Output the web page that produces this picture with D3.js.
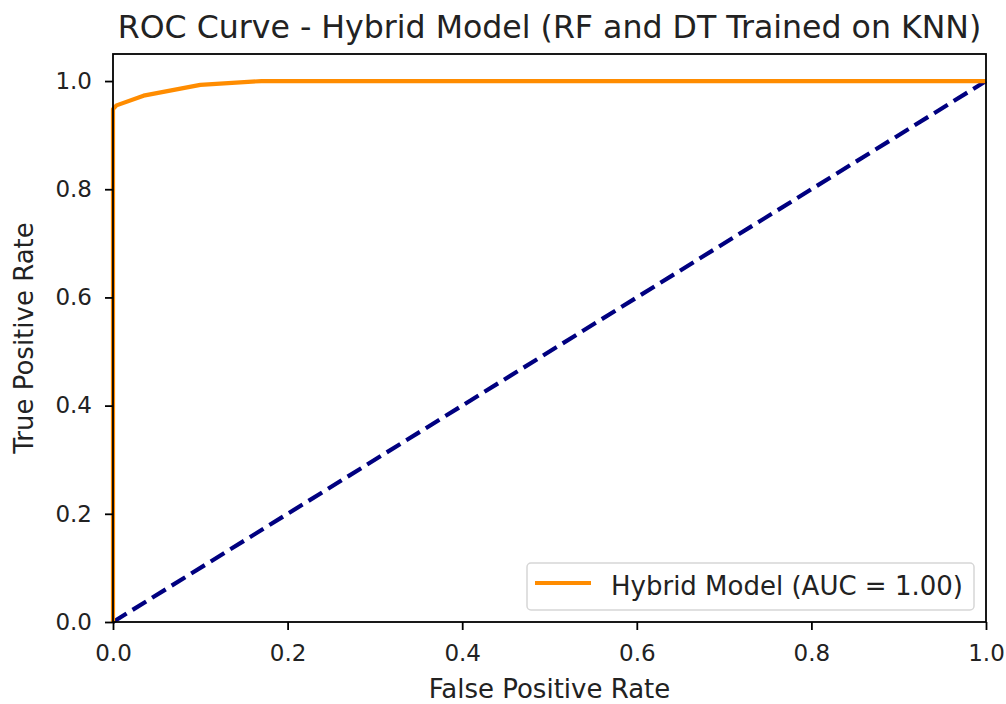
<!DOCTYPE html>
<meta charset="utf-8">
<style>
  body { margin: 0; background: #fff; }
  text { font-family: "DejaVu Sans", sans-serif; fill: #222; }
</style>
<svg width="1006" height="704"></svg>
<script src="https://d3js.org/d3.v7.min.js"></script>
<script>

var fpr = [0, 0, 0, 0.004, 0.035, 0.1, 0.17, 1],
    tpr = [0, 0.93, 0.948, 0.955, 0.973, 0.993, 1, 1],
    chanceX = [0, 1],
    chanceY = [0, 1],
    ticks = [0, 0.2, 0.4, 0.6, 0.8, 1.0],
    title = "ROC Curve - Hybrid Model (RF and DT Trained on KNN)",
    legendLabel = "Hybrid Model (AUC = 1.00)";

var svg = d3.select("svg"),
    margin = {top: 54, right: 20, bottom: 82, left: 113},
    width = 986 - margin.left,
    height = 622 - margin.top;

var x = d3.scaleLinear().domain([0, 1]).range([0, width]),
    y = d3.scaleLinear().domain([0, 1.05]).range([height, 0]);

var g = svg.append("g").attr("transform", "translate(" + margin.left + "," + margin.top + ")");

var line = d3.line()
    .x(function(d) { return x(d[0]); })
    .y(function(d) { return y(d[1]); });

g.append("path")
    .datum(d3.zip(chanceX, chanceY))
    .attr("d", line)
    .attr("fill", "none")
    .attr("stroke", "#000080")
    .attr("stroke-width", 4.2)
    .attr("stroke-dasharray", "16,7");

g.append("path")
    .datum(d3.zip(fpr, tpr))
    .attr("d", line)
    .attr("fill", "none")
    .attr("stroke", "#ff8c00")
    .attr("stroke-width", 4.2)
    .attr("stroke-linejoin", "round");

var xAxis = g.append("g")
    .attr("transform", "translate(0," + height + ")")
    .call(d3.axisBottom(x).tickValues(ticks).tickFormat(d3.format(".1f")).tickSize(8).tickPadding(15));

var yAxis = g.append("g")
    .call(d3.axisLeft(y).tickValues(ticks).tickFormat(d3.format(".1f")).tickSize(8).tickPadding(13));

[xAxis, yAxis].forEach(function(a) {
  a.select(".domain").remove();
  a.selectAll(".tick line").attr("stroke", "#000").attr("stroke-width", 1.8);
  a.selectAll(".tick text").style("font-size", "23px").attr("fill", "#222");
});

g.append("rect")
    .attr("width", width)
    .attr("height", height)
    .attr("fill", "none")
    .attr("stroke", "#000")
    .attr("stroke-width", 1.8);

svg.append("text")
    .attr("x", margin.left + width / 2)
    .attr("y", 38)
    .attr("text-anchor", "middle")
    .style("font-size", "31.6px")
    .text(title);

svg.append("text")
    .attr("x", margin.left + width / 2)
    .attr("y", 698)
    .attr("text-anchor", "middle")
    .style("font-size", "26px")
    .text("False Positive Rate");

svg.append("text")
    .attr("transform", "translate(33," + (margin.top + height / 2) + ") rotate(-90)")
    .attr("text-anchor", "middle")
    .style("font-size", "26px")
    .text("True Positive Rate");

var legend = g.append("g")
    .attr("transform", "translate(" + (width - 459) + "," + (height - 59) + ")");

legend.append("rect")
    .attr("width", 447)
    .attr("height", 47)
    .attr("rx", 4)
    .attr("fill", "#fff")
    .attr("fill-opacity", 0.8)
    .attr("stroke", "#d6d6d6")
    .attr("stroke-width", 1.5);

legend.append("line")
    .attr("x1", 8).attr("x2", 64)
    .attr("y1", 20).attr("y2", 20)
    .attr("stroke", "#ff8c00")
    .attr("stroke-width", 4.2);

legend.append("text")
    .attr("x", 84)
    .attr("y", 32)
    .style("font-size", "26px")
    .text(legendLabel);

</script>
